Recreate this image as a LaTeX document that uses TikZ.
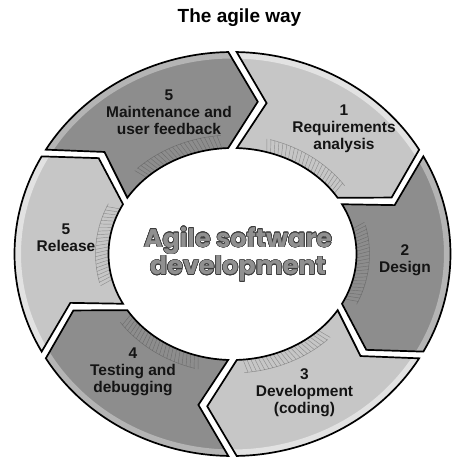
\documentclass[tikz,border=0pt]{standalone}
\usepackage{fontspec}
\setmainfont{Liberation Sans}
\newfontfamily\centerfont{Poppins}
\usepackage{contour}
\contourlength{0.6pt}
\definecolor{segLight}{HTML}{C6C6C6}
\definecolor{segDark}{HTML}{8D8D8D}
\definecolor{stripLight}{HTML}{E2E2E2}
\definecolor{stripDark}{HTML}{B4B4B4}
\definecolor{hatchCol}{HTML}{4A4A4A}
\definecolor{centerFill}{HTML}{909090}
\definecolor{centerLine}{HTML}{3C3C3C}
\def\Rx{218}\def\Ry{202}
\def\Mx{171}\def\My{154}
\def\Ix{124}\def\Iy{106}
\def\gapO{1.1}\def\gapM{1.5}\def\gapI{2.0}
\def\dlt{10}
\newcommand{\segpath}[2]{%
  ({\Rx*cos(#1-\gapO)},{\Ry*sin(#1-\gapO)})
  -- plot[domain=#1-\gapO:#2+\gapO,samples=50] ({\Rx*cos(\x)},{\Ry*sin(\x)})
  -- ({\Mx*cos(#2-\dlt+\gapM)},{\My*sin(#2-\dlt+\gapM)})
  -- ({\Ix*cos(#2+\gapI)},{\Iy*sin(#2+\gapI)})
  -- plot[domain=#2+\gapI:#1-\gapI,samples=40] ({\Ix*cos(\x)},{\Iy*sin(\x)})
  -- ({\Mx*cos(#1-\dlt-\gapM)},{\My*sin(#1-\dlt-\gapM)})
  -- cycle}
\newcommand{\segment}[4]{% s, e, fill, strip
  \fill[#3] \segpath{#1}{#2};
  \begin{scope}
    \clip \segpath{#1}{#2};
    \draw[#4, line width=9] plot[domain=#1:#2,samples=50] ({(\Rx-2)*cos(\x)},{(\Ry-2)*sin(\x)});
    \draw[hatchCol, line width=0.5, opacity=0.45] plot[domain=#1-16:#2+5,samples=30] ({(\Ix+13)*cos(\x)},{(\Iy+13)*sin(\x)});
    \foreach \k in {0,...,22}{
      \pgfmathsetmacro\ang{(#1)-16-\k*((#1)-(#2)-21)/22}
      \draw[hatchCol, line width=0.45, opacity=0.45]
        ({(\Ix+1)*cos(\ang)},{(\Iy+1)*sin(\ang)}) -- ({(\Ix+13)*cos(\ang+1.5)},{(\Iy+13)*sin(\ang+1.5)});
    }
  \end{scope}
  \draw[black, line width=1.7, line join=miter] \segpath{#1}{#2};
}
\begin{document}
\begin{tikzpicture}[x=1pt,y=1pt,
  seglabel/.style={align=center, text=black!92, font=\bfseries\fontsize{15.5}{17}\selectfont, inner sep=0},
  titlelabel/.style={font=\bfseries\fontsize{19}{21}\selectfont, inner sep=0},
  centerlabel/.style={align=center, font=\centerfont\bfseries\fontsize{25.5}{25}\selectfont, inner sep=0}]
\useasboundingbox (0,0) rectangle (452,459);
\fill[white] (0,0) rectangle (452,459);
\begin{scope}[shift={(232.5,205)}]
  \segment{90}{30}{segLight}{stripLight}
  \segment{30}{-30}{segDark}{stripDark}
  \segment{-30}{-90}{segLight}{stripLight}
  \segment{-90}{-150}{segDark}{stripDark}
  \segment{210}{150}{segLight}{stripLight}
  \segment{150}{90}{segDark}{stripDark}
\end{scope}
\node[titlelabel] (title) at (239.5,441) {The agile way};
\node[seglabel] (l1) at (344,330) {1\\Requirements\\analysis};
\node[seglabel] (l2) at (405,199) {2\\Design};
\node[seglabel] (l3) at (304.5,66) {3\\Development\\(coding)};
\node[seglabel] (l4) at (133,87) {4\\Testing and\\debugging};
\node[seglabel] (l5) at (66,221) {5\\Release};
\node[seglabel] (l6) at (169,347) {5\\Maintenance and\\user feedback};
\node[centerlabel] (center) at (238,204.5) {\contour{centerLine}{\textcolor{centerFill}{Agile software}}\\\contour{centerLine}{\textcolor{centerFill}{development}}};
\end{tikzpicture}
\end{document}
